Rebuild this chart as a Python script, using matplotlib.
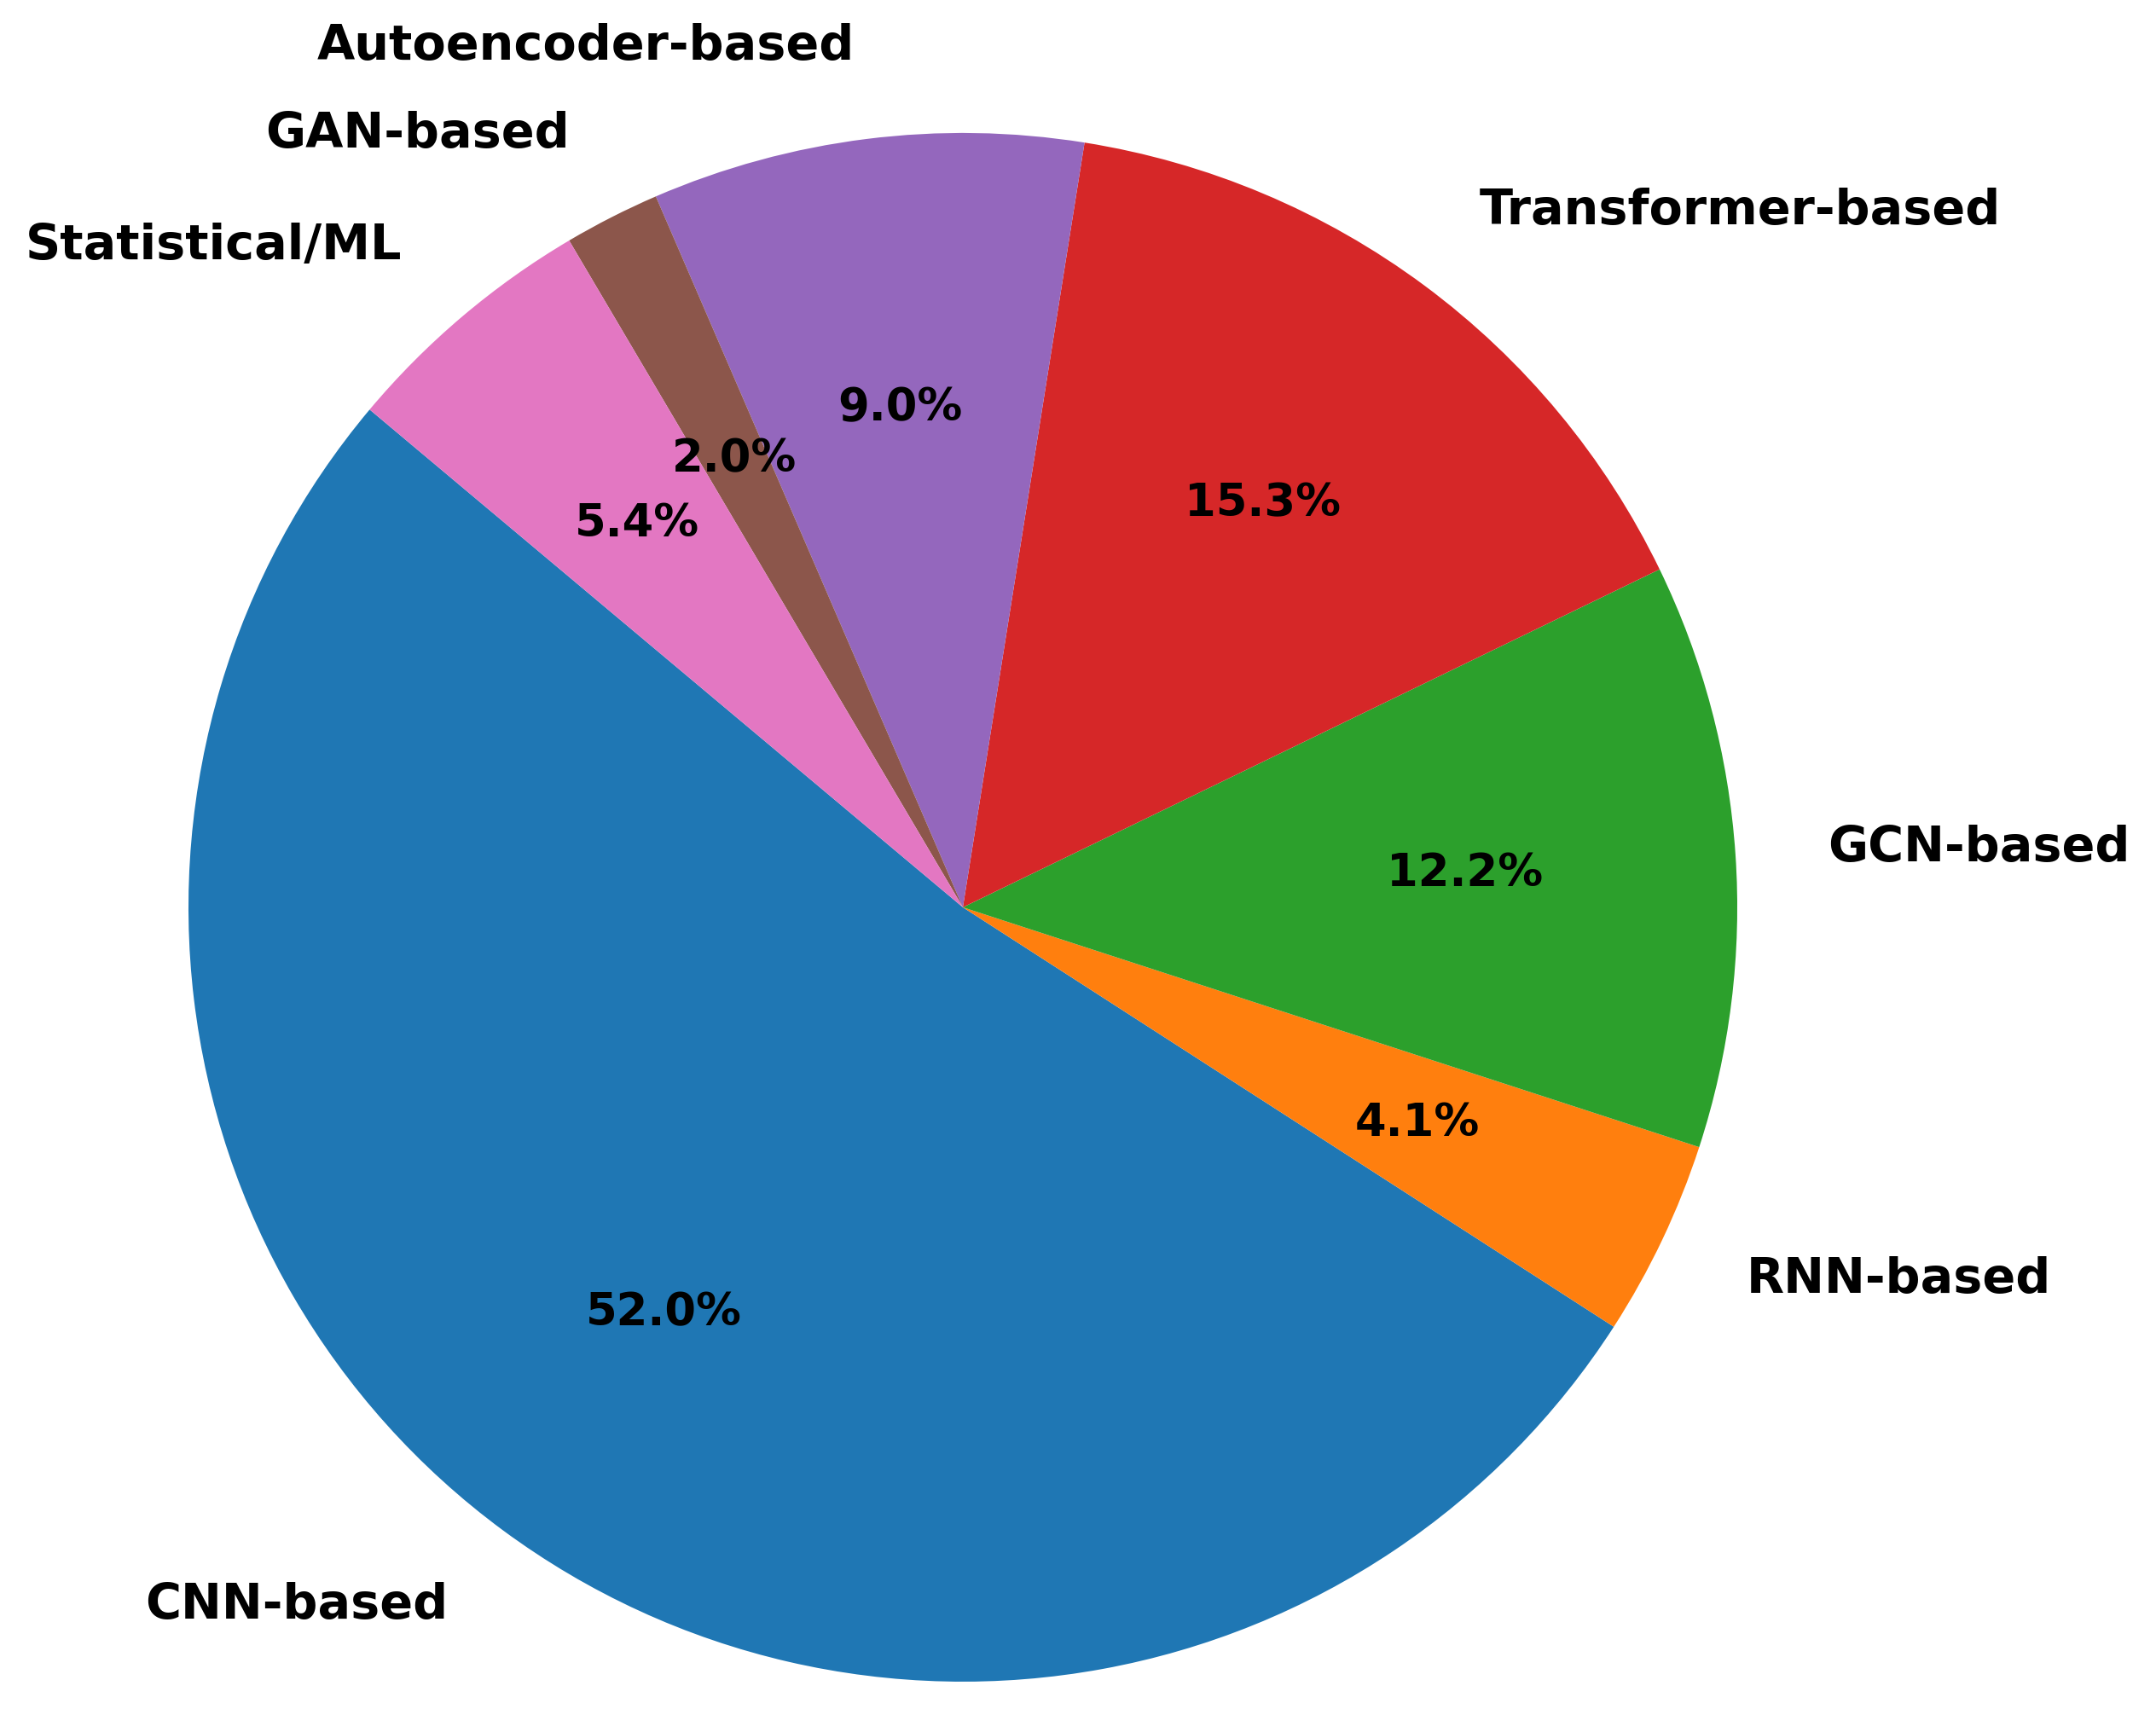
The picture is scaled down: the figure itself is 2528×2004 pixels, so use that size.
import matplotlib.pyplot as plt

labels = ["CNN-based", "RNN-based", "GCN-based", "Transformer-based",
          "Autoencoder-based", "GAN-based", "Statistical/ML"]
shares = [52.0, 4.1, 12.2, 15.3, 9.0, 2.0, 5.4]

fig = plt.figure(figsize=(12.64, 10.02), dpi=200)
ax = fig.add_axes([0.0874, 0.016, 0.7184, 0.9062])

wedges, texts, autotexts = ax.pie(
    shares, labels=labels, autopct="%1.1f%%", startangle=140,
    pctdistance=0.65, labeldistance=1.12,
    textprops={"fontsize": 20.6, "fontweight": "bold"})

for t in autotexts:
    t.set_fontsize(19)
    t.set_fontweight("bold")

ax.set_xlim(-1, 1)
ax.set_ylim(-1, 1)
ax.set_aspect("equal")

fig.savefig("out.png", dpi=200)
